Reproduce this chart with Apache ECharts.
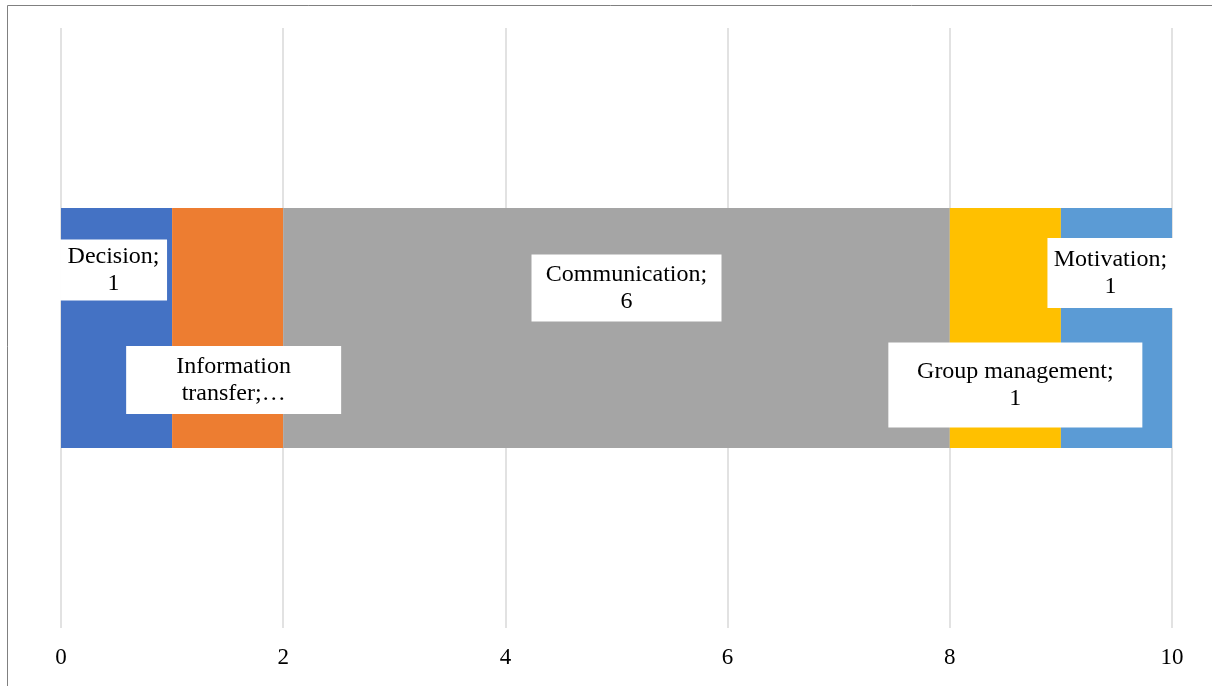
<!DOCTYPE html>
<html>
<head>
<meta charset="utf-8">
<script src="https://cdn.jsdelivr.net/npm/echarts@6/dist/echarts.min.js"></script>
<style>
  html, body { margin: 0; padding: 0; background: #fff; }
  #chart { width: 1212px; height: 686px; }
</style>
</head>
<body>
<div id="chart"></div>
<script>
// Segments of the single stacked bar
const categories = ['Total'];
const seriesNames = ['Decision', 'Information transfer', 'Communication', 'Group management', 'Motivation'];
const seriesValues = [1, 1, 6, 1, 1];
const seriesColors = ['#4472C4', '#ED7D31', '#A5A5A5', '#FFC000', '#5B9BD5'];
const tickLabels = ['0', '2', '4', '6', '8', '10'];

// Data-label boxes: [width, height, shiftX, shiftY]
const labelBoxes = [
  [107, 61, -3, -58],
  [215, 68, 6, 52],
  [190, 67, 10, -40],
  [254, 85, 10, 57],
  [126, 70, -6, -55]
];

function labelText(i) {
  if (i === 1) return 'Information\ntransfer;\u2026';
  return seriesNames[i] + ';\n' + seriesValues[i];
}

const serif = '"Liberation Serif", "Times New Roman", serif';

const chart = echarts.init(document.getElementById('chart'));
chart.setOption({
  animation: false,
  textStyle: { fontFamily: serif },
  grid: { left: 61, right: 40, top: 28, bottom: 58, containLabel: false },
  xAxis: {
    type: 'value',
    min: 0,
    max: 10,
    interval: 2,
    axisLine: { show: false },
    axisTick: { show: false },
    splitLine: { show: true, lineStyle: { color: '#D9D9D9', width: 1.5 } },
    axisLabel: {
      color: '#000',
      fontSize: 23,
      fontFamily: serif,
      margin: 18,
      formatter: function (v) { return tickLabels[Math.round(v / 2)]; }
    }
  },
  yAxis: {
    type: 'category',
    data: categories,
    show: false
  },
  graphic: [{
    type: 'rect',
    shape: { x: 7.5, y: 5.5, width: 1220, height: 700 },
    style: { fill: 'none', stroke: '#808080', lineWidth: 1 },
    silent: true,
    z: 100
  }],
  series: seriesNames.map(function (name, i) {
    const b = labelBoxes[i];
    return {
      name: name,
      type: 'bar',
      stack: 'all',
      barWidth: 240,
      data: [seriesValues[i]],
      itemStyle: { color: seriesColors[i] },
      label: {
        show: true,
        position: 'inside',
        formatter: function () { return labelText(i); },
        backgroundColor: '#fff',
        color: '#000',
        fontSize: 24,
        fontFamily: serif,
        lineHeight: 27,
        width: b[0],
        height: b[1],
        align: 'center',
        verticalAlign: 'middle',
        overflow: 'none'
      },
      labelLayout: { dx: b[2], dy: b[3], hideOverlap: false }
    };
  })
});
</script>
</body>
</html>
